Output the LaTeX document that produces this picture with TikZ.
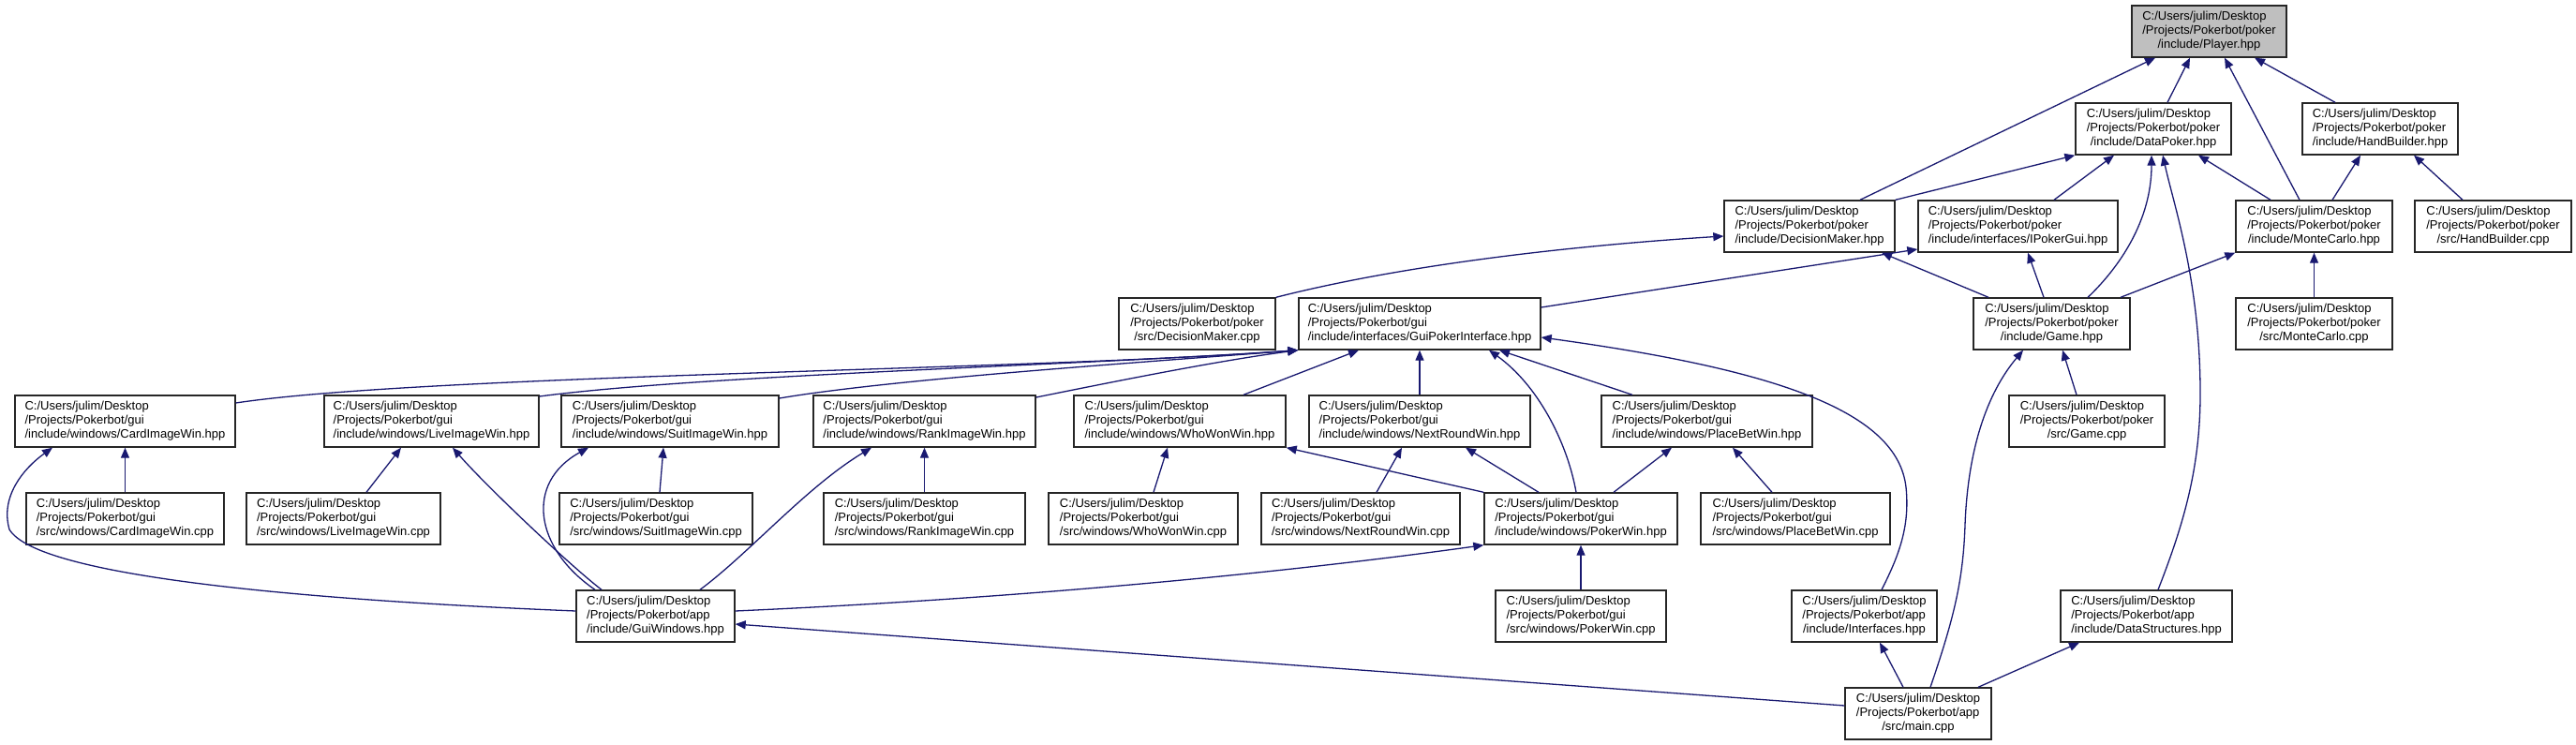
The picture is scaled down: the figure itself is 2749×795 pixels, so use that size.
\documentclass[tikz,border=0pt]{standalone}
\usepackage{fontspec}
\setmainfont{Liberation Sans}
\usetikzlibrary{arrows.meta}
\definecolor{mblue}{HTML}{191970}
\definecolor{boxgray}{HTML}{BFBFBF}
\tikzset{
  box/.style={draw=black!85, line width=0.7pt, fill=white, inner sep=0pt,
    minimum height=27.5pt, font=\fontsize{6.5pt}{7.3pt}\selectfont},
  edge/.style={draw=mblue, line width=0.65pt, -{Triangle[length=5.5pt,width=4.5pt]}}
}
\newcommand\nd[8][]{%
  \node[box,#1,minimum width={(#4-#3)*0.5pt}] (#2) at ({(#3+#4)/2},{33.5+104*#5})
  {\begin{tabular}{@{}l@{}}#6\\#7\\\multicolumn{1}{@{}c@{}}{#8}\end{tabular}};}
\def\U{C:/Users/julim/Desktop}
\def\PP{/Projects/Pokerbot/poker}
\def\PG{/Projects/Pokerbot/gui}
\def\PA{/Projects/Pokerbot/app}
\begin{document}
\begin{tikzpicture}[x=0.5pt,y=-0.5pt]
\useasboundingbox (0,0) rectangle (2749,795);
% row 0
\nd[fill=boxgray]{player}{2275}{2440}{0}{\U}{\PP}{/include/Player.hpp}
% row 1
\nd{dp}{2215}{2381}{1}{\U}{\PP}{/include/DataPoker.hpp}
\nd{hbh}{2457}{2623}{1}{\U}{\PP}{/include/HandBuilder.hpp}
% row 2
\nd{dmh}{1840}{2022}{2}{\U}{\PP}{/include/DecisionMaker.hpp}
\nd{ipg}{2047}{2260}{2}{\U}{\PP}{/include/interfaces/IPokerGui.hpp}
\nd{mch}{2386}{2553}{2}{\U}{\PP}{/include/MonteCarlo.hpp}
\nd{hbc}{2577}{2744}{2}{\U}{\PP}{/src/HandBuilder.cpp}
% row 3
\nd{dmc}{1194}{1361}{3}{\U}{\PP}{/src/DecisionMaker.cpp}
\nd{gpi}{1386}{1644}{3}{\U}{\PG}{/include/interfaces/GuiPokerInterface.hpp}
\nd{gameh}{2106}{2273}{3}{\U}{\PP}{/include/Game.hpp}
\nd{mcc}{2386}{2553}{3}{\U}{\PP}{/src/MonteCarlo.cpp}
% row 4
\nd{cih}{16}{251}{4}{\U}{\PG}{/include/windows/CardImageWin.hpp}
\nd{lih}{346}{575}{4}{\U}{\PG}{/include/windows/LiveImageWin.hpp}
\nd{sih}{599}{831}{4}{\U}{\PG}{/include/windows/SuitImageWin.hpp}
\nd{rih}{868}{1105}{4}{\U}{\PG}{/include/windows/RankImageWin.hpp}
\nd{wwh}{1146}{1372}{4}{\U}{\PG}{/include/windows/WhoWonWin.hpp}
\nd{nrh}{1397}{1633}{4}{\U}{\PG}{/include/windows/NextRoundWin.hpp}
\nd{pbh}{1709}{1934}{4}{\U}{\PG}{/include/windows/PlaceBetWin.hpp}
\nd{gamec}{2144}{2310}{4}{\U}{\PP}{/src/Game.cpp}
% row 5
\nd{cic}{28}{239}{5}{\U}{\PG}{/src/windows/CardImageWin.cpp}
\nd{lic}{263}{470}{5}{\U}{\PG}{/src/windows/LiveImageWin.cpp}
\nd{sic}{597}{803}{5}{\U}{\PG}{/src/windows/SuitImageWin.cpp}
\nd{ric}{879}{1094}{5}{\U}{\PG}{/src/windows/RankImageWin.cpp}
\nd{wwc}{1119}{1321}{5}{\U}{\PG}{/src/windows/WhoWonWin.cpp}
\nd{nrc}{1346}{1558}{5}{\U}{\PG}{/src/windows/NextRoundWin.cpp}
\nd{pwh}{1584}{1790}{5}{\U}{\PG}{/include/windows/PokerWin.hpp}
\nd{pbc}{1815}{2017}{5}{\U}{\PG}{/src/windows/PlaceBetWin.cpp}
% row 6
\nd{gw}{615}{784}{6}{\U}{\PA}{/include/GuiWindows.hpp}
\nd{pwc}{1596}{1778}{6}{\U}{\PG}{/src/windows/PokerWin.cpp}
\nd{ifc}{1912}{2067}{6}{\U}{\PA}{/include/Interfaces.hpp}
\nd{ds}{2199}{2382}{6}{\U}{\PA}{/include/DataStructures.hpp}
% row 7
\nd{main}{1969}{2125}{7}{\U}{\PA}{/src/main.cpp}

% edges into Player
\draw[edge] (dmh.north -| 1985,0) -- (player.south -| 2300,0);
\draw[edge] (dp.north -| 2313,0) -- (player.south -| 2337,0);
\draw[edge] (mch.north -| 2454,0) -- (player.south -| 2374,0);
\draw[edge] (hbh.north -| 2492,0) -- (player.south -| 2406,0);
% edges into DataPoker
\draw[edge] (dmh.north east) -- (dp.south west);
\draw[edge] (ipg.north -| 2192,0) -- (dp.south -| 2256,0);
\draw[edge] (gameh.north -| 2228,0) .. controls (2262,285) and (2296,235) .. (dp.south -| 2296,0);
\draw[edge] (ds.north -| 2303,0) .. controls (2330,560) and (2348,500) .. (2348,420)
  .. controls (2348,300) and (2320,220) .. (dp.south -| 2308,0);
\draw[edge] (mch.north -| 2423,0) -- (dp.south -| 2346,0);
% edges into HandBuilder.hpp
\draw[edge] (mch.north -| 2489,0) -- (hbh.south -| 2519,0);
\draw[edge] (hbc.north -| 2628,0) -- (hbh.south -| 2576,0);
% edges into DecisionMaker.hpp
\draw[edge] (dmc.north east) .. controls (1500,282) and (1680,262) .. (dmh.west |- 0,252);
\draw[edge] (gameh.north -| 2122,0) -- (dmh.south -| 2008,0);
% edges into IPokerGui
\draw[edge] (gpi.east |- 0,328) -- (ipg.west |- 0,266);
\draw[edge] (gameh.north -| 2181,0) -- (ipg.south -| 2164,0);
% edges into MonteCarlo.hpp
\draw[edge] (gameh.north -| 2263,0) -- (mch.south west);
\draw[edge] (mcc.north) -- (mch.south);
% edges into Game.hpp
\draw[edge] (gamec.north -| 2216,0) -- (gameh.south -| 2201,0);
\draw[edge] (main.north -| 2060,0) .. controls (2085,660) and (2095,620) .. (2097,560)
  .. controls (2100,480) and (2120,420) .. (gameh.south -| 2159,0);
% edges into GuiPokerInterface
\draw[edge] (ifc.north -| 2008,0) .. controls (2028,590) and (2038,560) .. (2034,520)
  .. controls (2025,440) and (1900,395) .. (gpi.east |- 0,360);
\draw[edge] (wwh.north -| 1327,0) -- (gpi.south -| 1450,0);
\draw[edge] (nrh.north -| 1515,0) -- (gpi.south -| 1515,0);
\draw[edge] (pwh.north -| 1682,0) .. controls (1672,470) and (1640,410) .. (gpi.south -| 1589,0);
\draw[edge] (pbh.north -| 1742,0) -- (gpi.south -| 1600,0);
\draw[edge] (rih.east |- 0,424) .. controls (1200,405) and (1300,385) .. (gpi.south west);
\draw[edge] (cih.east |- 0,430) .. controls (450,400) and (1100,395) .. (gpi.south west);
\draw[edge] (lih.east |- 0,423) .. controls (750,400) and (1150,390) .. (gpi.south west);
\draw[edge] (sih.east |- 0,425) .. controls (950,405) and (1200,388) .. (gpi.south west);
% edges into window headers
\draw[edge] (cic.north) -- (cih.south);
\draw[edge] (gw.west |- 0,652) .. controls (320,640) and (40,615) .. (10,565)
  .. controls (0,530) and (25,500) .. (cih.south -| 56,0);
\draw[edge] (lic.north -| 391,0) -- (lih.south -| 428,0);
\draw[edge] (gw.north -| 642,0) .. controls (610,605) and (520,520) .. (lih.south -| 483,0);
\draw[edge] (sic.north -| 704,0) -- (sih.south -| 708,0);
\draw[edge] (gw.north -| 635,0) .. controls (570,585) and (560,515) .. (sih.south -| 628,0);
\draw[edge] (ric.north) -- (rih.south);
\draw[edge] (gw.north -| 747,0) .. controls (800,590) and (860,520) .. (rih.south -| 930,0);
\draw[edge] (wwc.north -| 1231,0) -- (wwh.south -| 1246,0);
\draw[edge] (pwh.north west) -- (wwh.south east);
\draw[edge] (nrc.north -| 1469,0) -- (nrh.south -| 1496,0);
\draw[edge] (pwh.north -| 1642,0) -- (nrh.south -| 1564,0);
\draw[edge] (pwh.north -| 1722,0) -- (pbh.south -| 1784,0);
\draw[edge] (pbc.north -| 1891,0) -- (pbh.south -| 1849,0);
% PokerWin.hpp
\draw[edge] (pwc.north) -- (pwh.south);
\draw[edge] (gw.east |- 0,652) .. controls (1100,638) and (1380,610) .. (pwh.south west);
% main.cpp
\draw[edge] (main.west |- 0,753) -- (gw.east |- 0,666);
\draw[edge] (main.north -| 2031,0) -- (ifc.south -| 2006,0);
\draw[edge] (main.north -| 2111,0) -- (ds.south -| 2219,0);
\end{tikzpicture}
\end{document}
